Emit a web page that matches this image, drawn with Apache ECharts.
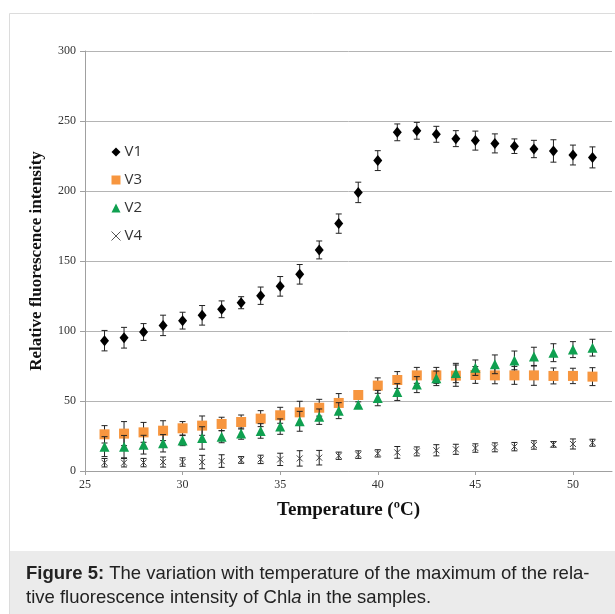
<!DOCTYPE html>
<html><head><meta charset="utf-8">
<script src="https://cdn.jsdelivr.net/npm/echarts@6/dist/echarts.min.js"></script>
<style>html,body{margin:0;padding:0;background:#fff}#c{width:615px;height:614px}</style>
</head><body><div id="c"></div>
<script>
var temps = [26,27,28,29,30,31,32,33,34,35,36,37,38,39,40,41,42,43,44,45,46,47,48,49,50,51];
var v1 = [93.1,95.2,99.3,104,107.4,111.2,115.5,120.2,125.2,131.9,140.5,157.9,176.7,199,221.7,241.9,243,240.5,237.4,236,234,232,230,228.6,225.7,224];
var v1Err = [7.3,7.4,6,7.3,6,7,6,4.3,6.2,7,7,6.4,6.9,7.3,7.1,6,6,5.7,5.7,6.8,6.8,5.2,6.2,8,7.1,7.5];
var v3 = [26.2,26.7,27.6,28.8,30.5,32.4,33.6,35,37.4,39.8,41.9,45.2,48.6,54.3,61,65,68.3,68.3,68.1,68.6,68.3,68.3,68.3,67.9,67.9,67.4];
var v3Err = [6.2,8.6,7.1,7.1,4.8,6.9,4.8,5,5.7,5.7,7.9,6,6.7,2.4,5.5,6,5.7,5.7,7.6,6,6,6.4,7.1,5.7,5.5,6.4];
var v2 = [17.4,17.4,18.8,19.8,21.7,23.6,24.5,26.7,28.6,31.7,35.5,38.8,43.1,47.4,52.1,56.4,61.7,66.2,70,73.8,76.2,79,81.7,84.5,86.7,88.1];
var v2Err = [7.1,8,6.7,6.2,3.6,8,4.3,4,5.2,5.5,7.1,5.5,5.7,2,5.5,6,5.7,5.2,6.9,5.5,6.7,6.7,6.7,6.4,5.7,6];
var v4 = [5.9,5.9,6,6.4,6.4,6.4,7.1,7.9,8.3,8.3,9,9.5,10.9,11.7,12.6,13.3,14,14.8,15.5,16.4,16.9,17.4,18.6,19,19.3,20.2];
var v4Err = [3,3,3,3.6,3,4.8,4.5,2.4,3,4.4,5.5,5.2,2.6,2.7,2.6,4.2,3.2,4,3.6,3,3.2,3,3,2,3.6,2.5];
var seriesNames = ['V1','V3','V2','V4'];
var xTicks = [25,30,35,40,45,50];
var yTicks = [0,50,100,150,200,250,300];

var chart = echarts.init(document.getElementById('c'));
var crossPath = 'path://M0,0L10,10M10,0L0,10';

function pts(vals){ return temps.map(function(t,i){ return [t, vals[i]]; }); }
function errData(vals, errs){ return temps.map(function(t,i){ return [t, vals[i]-errs[i], vals[i]+errs[i]]; }); }
function errSeries(vals, errs, z){
  return {
    type:'custom', silent:true, z:z,
    data: errData(vals, errs),
    encode:{x:0, y:[1,2]},
    renderItem:function(params, api){
      var x = api.value(0);
      var lo = api.coord([x, api.value(1)]);
      var hi = api.coord([x, api.value(2)]);
      var w = 3;
      var st = {stroke:'#222', lineWidth:1};
      return {type:'group', children:[
        {type:'line', shape:{x1:lo[0], y1:lo[1], x2:hi[0], y2:hi[1]}, style:st},
        {type:'line', shape:{x1:lo[0]-w, y1:lo[1], x2:lo[0]+w, y2:lo[1]}, style:st},
        {type:'line', shape:{x1:hi[0]-w, y1:hi[1], x2:hi[0]+w, y2:hi[1]}, style:st}
      ]};
    }
  };
}

var option = {
  animation:false,
  backgroundColor:'#fff',
  grid:{left:85, top:51, right:3, height:420},
  legend:{
    orient:'vertical', left:109, top:144.5, itemWidth:9, itemHeight:9, itemGap:13, padding:0,
    textStyle:{fontFamily:'Open Sans', fontSize:15, color:'#333', padding:[0,0,0,-1]},
    data:[
      {name:'V1', icon:'diamond'},
      {name:'V3', icon:'rect'},
      {name:'V2', icon:'triangle', itemStyle:{color:'#0fa050', borderWidth:0}},
      {name:'V4', icon:crossPath, itemStyle:{color:'none', borderColor:'#555', borderWidth:1}}
    ]
  },
  xAxis:{
    type:'value', min:25, max:52, interval:5,
    name:'Temperature (ºC)', nameLocation:'middle', nameGap:30,
    nameTextStyle:{fontFamily:'Liberation Serif', fontWeight:'bold', fontSize:19, color:'#111'},
    axisLine:{lineStyle:{color:'#a0a0a0'}},
    axisTick:{show:true, length:4, lineStyle:{color:'#a0a0a0'}},
    axisLabel:{showMaxLabel:false, margin:8, fontFamily:'Liberation Serif', fontSize:12, color:'#333',
      formatter:function(v){ return xTicks.indexOf(v)>=0 ? String(v) : ''; }},
    splitLine:{show:false}
  },
  yAxis:{
    type:'value', min:0, max:300, interval:50,
    name:'Relative fluorescence intensity', nameLocation:'middle', nameGap:40,
    nameTextStyle:{fontFamily:'Liberation Serif', fontWeight:'bold', fontSize:17, color:'#111'},
    axisLine:{show:true, lineStyle:{color:'#a0a0a0'}},
    axisTick:{show:true, length:5, lineStyle:{color:'#a0a0a0'}},
    axisLabel:{margin:9, fontFamily:'Liberation Serif', fontSize:12, color:'#333',
      formatter:function(v){ return yTicks.indexOf(v)>=0 ? String(v) : ''; }},
    splitLine:{show:true, lineStyle:{color:'#b4b4b4', width:1}}
  },
  graphic:[
    {type:'rect', z:-10, shape:{x:9.5, y:13.5, width:620, height:620}, style:{fill:'none', stroke:'#dcdcdc', lineWidth:1}},
    {type:'rect', z:-9, shape:{x:10, y:551, width:605, height:63}, style:{fill:'#ebebeb'}},
    {type:'text', left:26, top:562, style:{
      text:'{b|Figure 5:} The variation with temperature of the maximum of the rela-\ntive fluorescence intensity of Chl{i|a} in the samples.',
      fontFamily:'Liberation Sans', fontSize:18.5, lineHeight:24, fill:'#222',
      rich:{b:{fontWeight:'bold', fontFamily:'Liberation Sans', fontSize:18.5, lineHeight:24, fill:'#222'},
            i:{fontStyle:'italic', fontFamily:'Liberation Sans', fontSize:18.5, lineHeight:24, fill:'#222'}}
    }}
  ],
  series:[
    errSeries(v1, v1Err, 2),
    {name:'V1', type:'scatter', z:3, symbol:'diamond', symbolSize:[9,11], data:pts(v1), itemStyle:{color:'#000', opacity:1}},
    errSeries(v3, v3Err, 4),
    {name:'V3', type:'scatter', z:5, symbol:'rect', symbolSize:10, data:pts(v3), itemStyle:{color:'#f7963f', opacity:1}},
    errSeries(v2, v2Err, 6),
    {name:'V2', type:'scatter', z:7, symbol:'triangle', symbolSize:10, data:pts(v2), itemStyle:{color:'#0fa050', opacity:1}},
    errSeries(v4, v4Err, 8),
    {name:'V4', type:'scatter', z:9, symbol:crossPath, symbolSize:6, data:pts(v4), itemStyle:{color:'none', opacity:1, borderColor:'#444', borderWidth:1}}
  ]
};
chart.setOption(option);
</script></body></html>
